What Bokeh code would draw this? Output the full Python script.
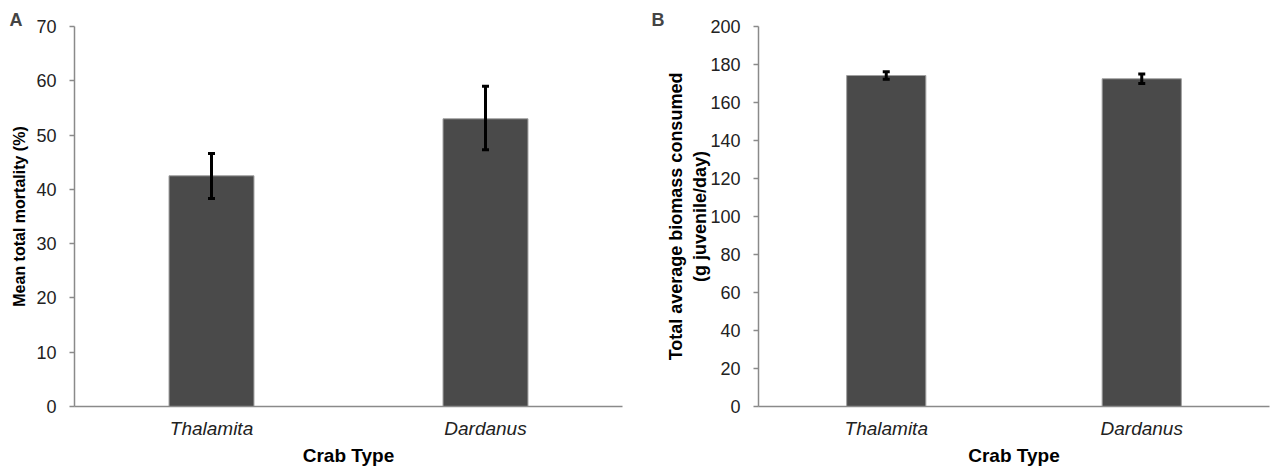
from bokeh.plotting import figure
from bokeh.models import ColumnDataSource, Whisker, TeeHead, FixedTicker, Range1d
from bokeh.layouts import row
from bokeh.embed import file_html
from bokeh.resources import INLINE

crabs = ["Thalamita", "Dardanus"]
mortality = [42.5, 53.0]
mortality_lo = [38.3, 47.3]
mortality_hi = [46.6, 59.0]
biomass = [174.2, 172.5]
biomass_lo = [172.2, 170.0]
biomass_hi = [176.2, 175.0]

FONT = "Liberation Sans"
AXIS_COL = "#8a8a8a"
BAR_COL = "#4a4a4a"


def make_panel(vals, lo, hi, ymax, step, ylabel, ylabel_size, ylabel_standoff,
               letter, width, left, right):
    src = ColumnDataSource(dict(x=crabs, top=vals, lo=lo, hi=hi))
    p = figure(x_range=crabs, y_range=Range1d(0, ymax), width=width, height=468,
               output_backend="svg", toolbar_location=None,
               min_border_left=left, min_border_right=right,
               min_border_top=26, min_border_bottom=62,
               title=letter)
    p.title.text_font = FONT
    p.title.text_font_style = "bold"
    p.title.text_font_size = "18px"
    p.title.align = "left"
    p.title.offset = -65 if letter == "A" else -107
    p.title.standoff = -6
    p.vbar(x="x", top="top", width=0.31, source=src, fill_color=BAR_COL,
           line_color="#a0a0a0", line_width=1)
    w = Whisker(base="x", upper="hi", lower="lo", source=src, line_color="black",
                line_width=3, level="overlay",
                upper_head=TeeHead(size=7, line_width=3, line_color="black"),
                lower_head=TeeHead(size=7, line_width=3, line_color="black"))
    p.add_layout(w)
    p.outline_line_color = None
    p.xgrid.grid_line_color = None
    p.ygrid.grid_line_color = None
    p.x_range.range_padding = 0
    p.yaxis.ticker = FixedTicker(ticks=list(range(0, ymax + 1, step)))
    for ax in (p.xaxis, p.yaxis):
        ax.axis_line_color = AXIS_COL
        ax.axis_line_width = 1.5
        ax.major_tick_line_color = AXIS_COL
        ax.major_tick_line_width = 1.5
        ax.minor_tick_line_color = None
        ax.major_label_text_font = FONT
        ax.major_label_text_color = "#222222"
        ax.axis_label_text_font = FONT
        ax.axis_label_text_font_style = "bold"
        ax.axis_label_text_color = "black"
    p.yaxis.major_label_text_font_size = "18px"
    p.yaxis.major_tick_out = 5
    p.yaxis.major_tick_in = 0
    p.yaxis.major_label_standoff = 13
    p.yaxis.axis_label = ylabel
    p.yaxis.axis_label_text_font_size = ylabel_size
    p.yaxis.axis_label_standoff = ylabel_standoff
    p.xaxis.major_tick_out = 0
    p.xaxis.major_tick_in = 0
    p.xaxis.major_label_standoff = 11
    p.xaxis.major_label_text_font_size = "19px"
    p.xaxis.major_label_text_font_style = "italic"
    p.xaxis.axis_label = "Crab Type"
    p.xaxis.axis_label_text_font_size = "19px"
    p.xaxis.axis_label_standoff = 3
    return p


pa = make_panel(mortality, mortality_lo, mortality_hi, 70, 10,
                "Mean total mortality (%)", "16px", 5, "A", 635, 74, 13)
pb = make_panel(biomass, biomass_lo, biomass_hi, 200, 20,
                "Total average biomass consumed\n(g juvenile/day)", "18px", -3,
                "B", 635, 123, 1)

layout = row(pa, pb)
open("out.html", "w").write(file_html(layout, INLINE))
